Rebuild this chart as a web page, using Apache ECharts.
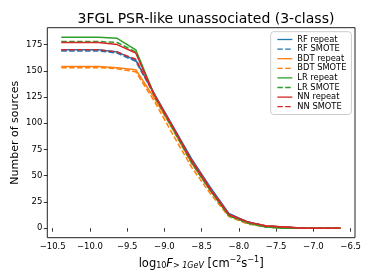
<!DOCTYPE html>
<html><head><meta charset="utf-8">
<script src="https://cdn.jsdelivr.net/npm/echarts@6/dist/echarts.min.js"></script>
<style>html,body{margin:0;padding:0;background:#fff}#c{width:374px;height:280px}</style>
</head><body><div id="c"></div>
<script>
const logFlux = [-10.385, -10.135, -9.885, -9.635, -9.385, -9.135, -8.885, -8.635, -8.385, -8.135, -7.885, -7.635, -7.385, -7.135, -6.885, -6.635];
const rfRepeat  = [170,170,170,168,160,128,97,66,39,14,6,2,1,0,0,0];
const rfSmote   = [169,169,169,167,159,127,96,65,38,13,6,2,1,0,0,0];
const bdtRepeat = [154,154,154,153,151,124,94,62,36,12,5,2,1,0,0,0];
const bdtSmote  = [153,153,153,152,149,121,89,58,33,11,4,1,0,0,0,0];
const lrRepeat  = [182,182,182,181,170,127,95,63,36,12,5,1,0,0,0,0];
const lrSmote   = [178,178,178,177,168,126,94,62,36,12,5,1,0,0,0,0];
const nnRepeat  = [177,177,177,175,167,127,96,64,37,13,6,2,1,0,0,0];
const nnSmote   = [170,170,170,168,161,127,96,65,38,13,6,2,1,0,0,0];
const xTicks = [-10.5,-10.0,-9.5,-9.0,-8.5,-8.0,-7.5,-7.0,-6.5];
const yTicks = [0,25,50,75,100,125,150,175];

const FONT = 'DejaVu Sans';
const BLUE='#1f77b4', ORANGE='#ff7f0e', GREEN='#2ca02c', RED='#d62728';
const DASH=[5.5,2.4];
function mk(name, vals, color, dashed){
  return {name, type:'line', data: logFlux.map((x,i)=>[x, vals[i]]), symbol:'none',
    lineStyle:{color, width:1.5, type: dashed?DASH:'solid'}, itemStyle:{color}, animation:false};
}
const chart = echarts.init(document.getElementById('c'), null, {renderer:'canvas'});
const fmt = v => (v<0?'\u2212':'') + Math.abs(v).toFixed(1);
chart.setOption({
  animation:false,
  title:{text:'3FGL PSR-like unassociated (3-class)', left:201, textAlign:'center', top:7,
    textStyle:{fontFamily:FONT, fontSize:14, fontWeight:'normal', color:'#000'}},
  grid:{left:47.3, right:19, top:27.7, bottom:42.3, show:true, borderColor:'#222', borderWidth:1, outerBoundsMode:'none'},
  legend:{orient:'vertical', left:270.7, top:31.7, padding:[3,5,3,6], itemWidth:15, itemHeight:9.6, itemGap:0,
    borderColor:'#ccc', borderWidth:1, borderRadius:3, backgroundColor:'rgba(255,255,255,0.8)',
    itemStyle:{opacity:0, borderWidth:0},
    lineStyle:{width:1.3},
    textStyle:{fontFamily:FONT, fontSize:8.3, color:'#000', lineHeight:9.6},
    data:['RF repeat','RF SMOTE','BDT repeat','BDT SMOTE','LR repeat','LR SMOTE','NN repeat','NN SMOTE']},
  xAxis:{type:'value', min:-10.5725, max:-6.442,
    axisLine:{show:false}, splitLine:{show:false},
    axisTick:{show:true, inside:false, length:3.5, customValues:xTicks, lineStyle:{color:'#000', width:0.8}},
    axisLabel:{customValues:xTicks, formatter:fmt, fontFamily:FONT, fontSize:8.5, color:'#000', margin:5},
    name:'{a|log}{s|10}{i|F}{si|> 1GeV}{a| [cm}{p|\u22122}{a|s}{p|\u22121}{a|]}', nameLocation:'middle', nameGap:18,
    nameMoveOverlap:false,
    nameTextStyle:{fontFamily:FONT, color:'#000', verticalAlign:'top', rich:{
      a:{fontFamily:FONT, fontSize:11.5, color:'#000', verticalAlign:'bottom', lineHeight:14},
      s:{fontFamily:FONT, fontSize:8, color:'#000', verticalAlign:'bottom', lineHeight:11},
      i:{fontFamily:FONT, fontSize:11.5, fontStyle:'italic', color:'#000', verticalAlign:'bottom', lineHeight:14},
      si:{fontFamily:FONT, fontSize:8, fontStyle:'italic', color:'#000', verticalAlign:'bottom', lineHeight:10},
      p:{fontFamily:FONT, fontSize:8, color:'#000', verticalAlign:'top', lineHeight:14}
    }}},
  yAxis:{type:'value', min:-9.1, max:191.1,
    axisLine:{show:false}, splitLine:{show:false},
    axisTick:{show:true, inside:false, length:3.5, customValues:yTicks, lineStyle:{color:'#000', width:0.8}},
    axisLabel:{customValues:yTicks, fontFamily:FONT, fontSize:8.5, color:'#000', margin:5},
    name:'Number of sources', nameLocation:'middle', nameGap:27, nameMoveOverlap:false,
    nameTextStyle:{fontFamily:FONT, fontSize:11, color:'#000'}},
  series:[
    mk('RF repeat', rfRepeat, BLUE, false),
    mk('RF SMOTE', rfSmote, BLUE, true),
    mk('BDT repeat', bdtRepeat, ORANGE, false),
    mk('BDT SMOTE', bdtSmote, ORANGE, true),
    mk('LR repeat', lrRepeat, GREEN, false),
    mk('LR SMOTE', lrSmote, GREEN, true),
    mk('NN repeat', nnRepeat, RED, false),
    mk('NN SMOTE', nnSmote, RED, true)
  ]
});
</script></body></html>
